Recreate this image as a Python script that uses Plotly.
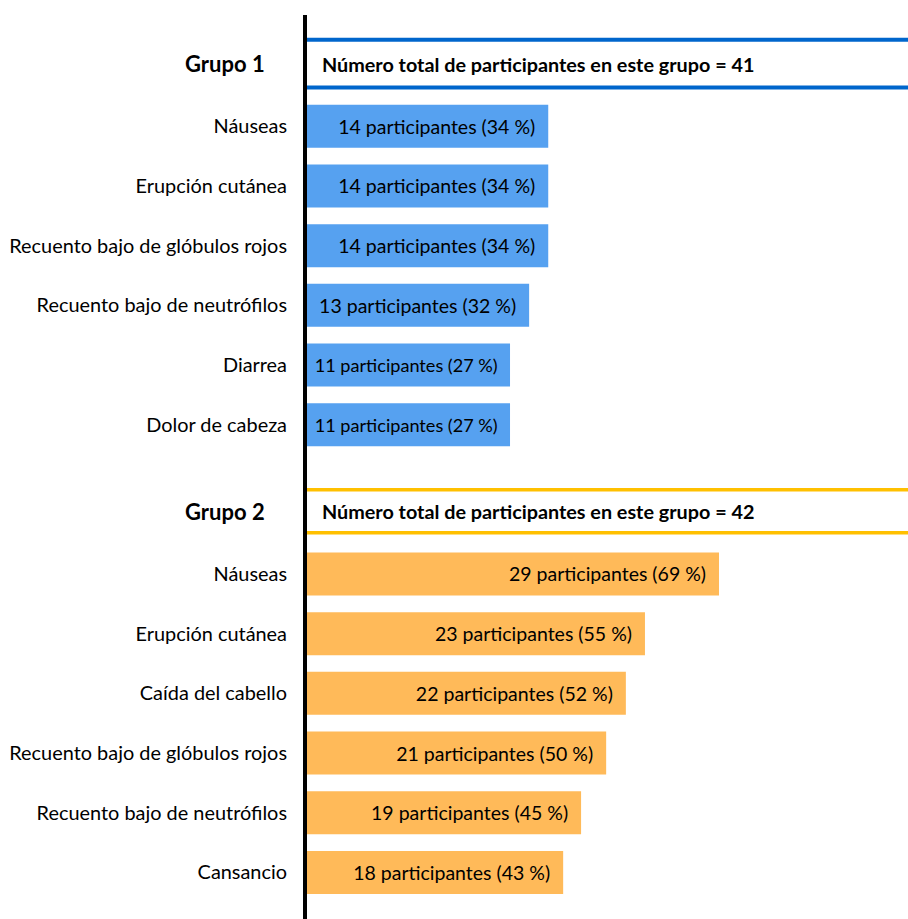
import plotly.graph_objects as go

# ---- data ----
group_names = ["Grupo 1", "Grupo 2"]
group_totals = [41, 42]

g1_categories = ["Náuseas", "Erupción cutánea", "Recuento bajo de glóbulos rojos",
                 "Recuento bajo de neutrófilos", "Diarrea", "Dolor de cabeza"]
g1_counts = [14, 14, 14, 13, 11, 11]
g1_pct = [34, 34, 34, 32, 27, 27]
g1_bar_length = [40.4, 40.4, 40.4, 37.2, 34.0, 34.0]   # drawn bar extent

g2_categories = ["Náuseas", "Erupción cutánea", "Caída del cabello",
                 "Recuento bajo de glóbulos rojos", "Recuento bajo de neutrófilos", "Cansancio"]
g2_counts = [29, 23, 22, 21, 19, 18]
g2_pct = [69, 55, 52, 50, 45, 43]
g2_bar_length = [69, 56.6, 53.4, 50.1, 45.9, 42.9]

# ---- style ----
FONT = "Lato, 'Open Sans', sans-serif"
BLUE_BAR = "#56A1F0"
ORANGE_BAR = "#FFBA59"
BLUE_LINE = "#0066CC"
ORANGE_LINE = "#FFC000"

g1_y = [0, 1, 2, 3, 4, 5]
g2_y = [7.5, 8.5, 9.5, 10.5, 11.5, 12.5]
header_y = [-1.05, 6.45]
header_half = [0.40, 0.36]
header_line_w = [4, 3.5]
header_colors = [BLUE_LINE, ORANGE_LINE]

def labels(counts, pcts):
    return ["\u00a0%d participantes (%d\u00a0%%)\u00a0\u00a0" % (c, p) for c, p in zip(counts, pcts)]

fig = go.Figure()
fig.add_trace(go.Bar(
    x=g1_bar_length, y=g1_y, orientation="h", width=0.72,
    marker=dict(color=BLUE_BAR, line=dict(width=0)),
    text=labels(g1_counts, g1_pct), textposition="inside", insidetextanchor="end",
    textfont=dict(family=FONT, size=19.5, color="black"), constraintext="inside",
    hoverinfo="skip"))
fig.add_trace(go.Bar(
    x=g2_bar_length, y=g2_y, orientation="h", width=0.72,
    marker=dict(color=ORANGE_BAR, line=dict(width=0)),
    text=labels(g2_counts, g2_pct), textposition="inside", insidetextanchor="end",
    textfont=dict(family=FONT, size=19.5, color="black"), constraintext="inside",
    hoverinfo="skip"))

shapes = []
annotations = []
for i in range(2):
    yc = header_y[i]
    for yy in (yc - header_half[i], yc + header_half[i]):
        shapes.append(dict(type="line", xref="paper", x0=0, x1=1, yref="y", y0=yy, y1=yy,
                           line=dict(color=header_colors[i], width=header_line_w[i])))
    annotations.append(dict(xref="paper", x=0, xanchor="left", xshift=13, yref="y", y=yc,
                            yanchor="middle", showarrow=False,
                            text="<b>Número total de participantes en este grupo = %d</b>" % group_totals[i],
                            font=dict(family=FONT, size=19.8, color="black")))
    annotations.append(dict(xref="paper", x=0, xanchor="center", xshift=-82, yref="y", y=yc,
                            yanchor="middle", showarrow=False,
                            text="<b>%s</b>" % group_names[i],
                            font=dict(family=FONT, size=22, color="black")))

fig.update_layout(
    width=908, height=919,
    margin=dict(l=307, r=0, t=15, b=0),
    paper_bgcolor="white", plot_bgcolor="white",
    showlegend=False, barmode="overlay",
    shapes=shapes, annotations=annotations,
    xaxis=dict(range=[0, 100.65], visible=False, fixedrange=True),
    yaxis=dict(range=[13.28, -1.864], tickvals=g1_y + g2_y, ticktext=g1_categories + g2_categories,
               showline=True, linecolor="black", linewidth=4, showgrid=False, zeroline=False,
               ticks="", ticklabelstandoff=12,
               tickfont=dict(family=FONT, size=19.9, color="black"), fixedrange=True),
)

fig.write_html("out.html", include_plotlyjs=True)
